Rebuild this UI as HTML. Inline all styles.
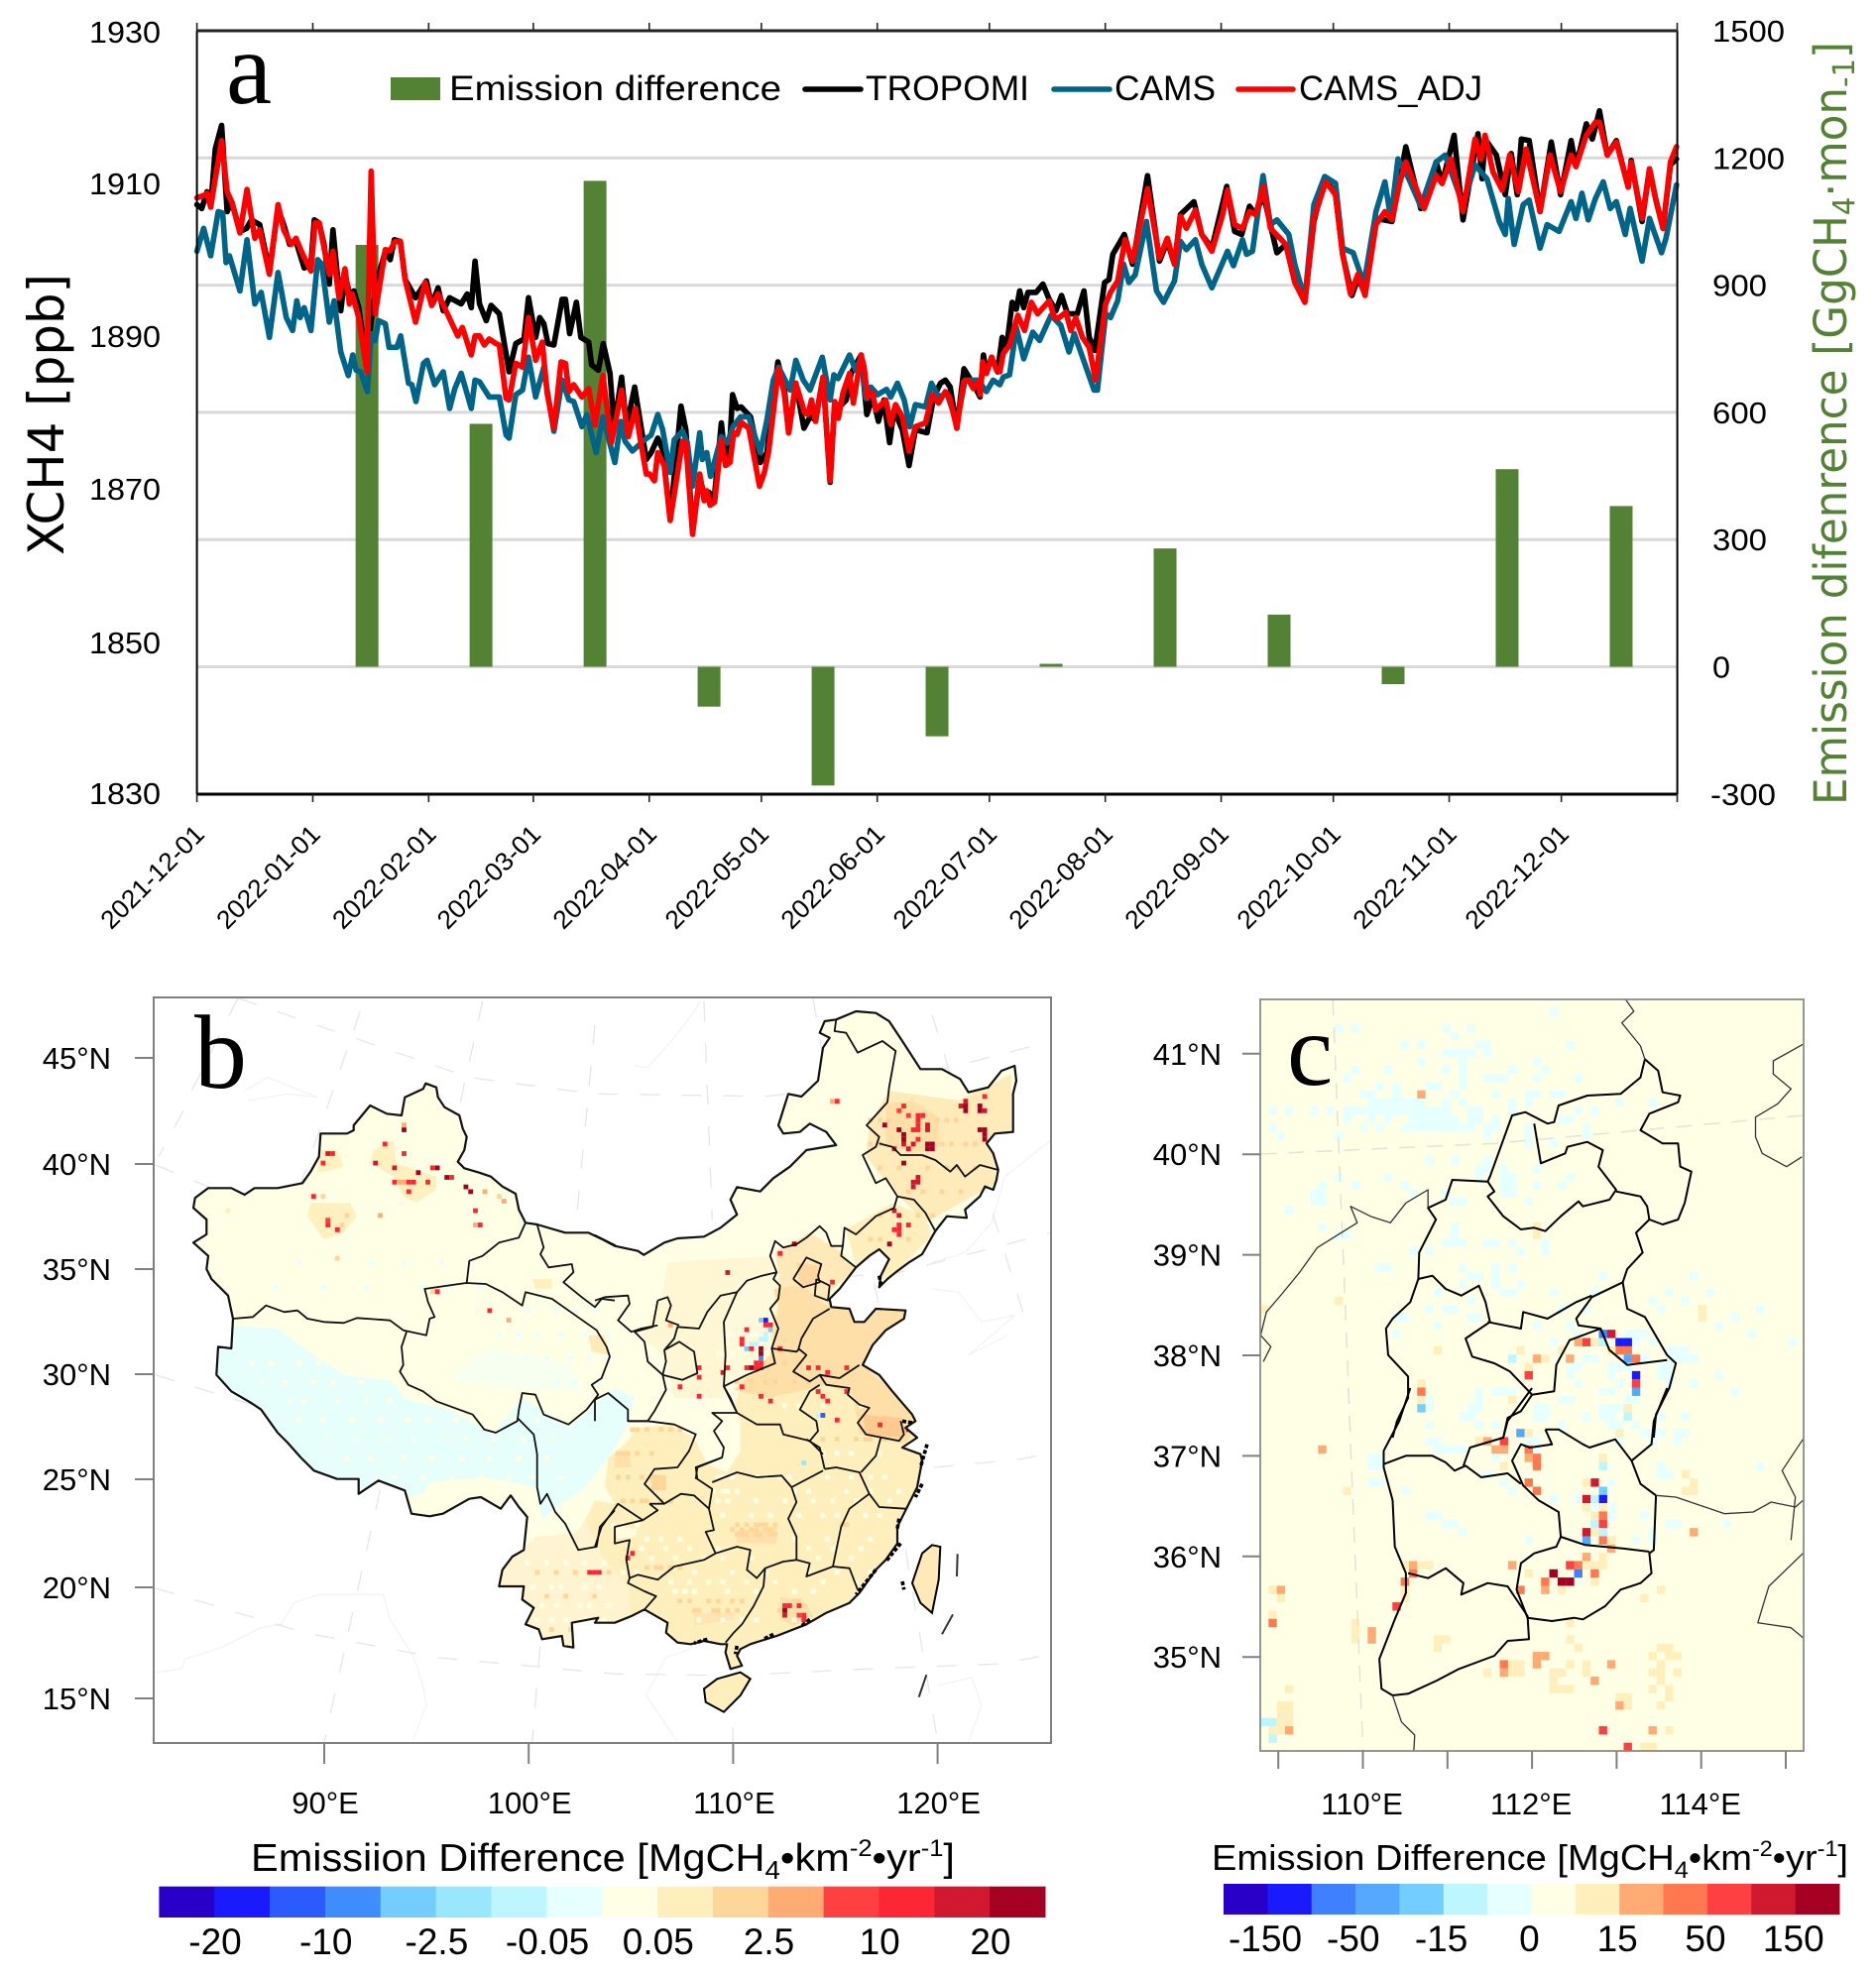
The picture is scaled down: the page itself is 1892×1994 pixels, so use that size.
<!DOCTYPE html>
<html lang="en">
<head>
<meta charset="utf-8">
<title>XCH4 and emission differences</title>
<style>
html,body{margin:0;padding:0;background:#fff;}
svg{display:block;font-family:"Liberation Sans",sans-serif;}
</style>
</head>
<body>
<svg id="fig" xmlns="http://www.w3.org/2000/svg" width="1892" height="1994" viewBox="0 0 1892 1994">
  <rect width="1892" height="1994" fill="#fff"/>
  <g id="panelA"></g>
  <g id="panelB"></g>
  <g id="panelC"></g>

  <text x="228" y="104" font-family="Liberation Serif" font-size="104">a</text>
  <rect x="394" y="78" width="50" height="23" fill="#548235"/>
  <text x="453" y="101" font-size="35" textLength="335" lengthAdjust="spacingAndGlyphs">Emission difference</text>
  <line x1="812" x2="868" y1="90" y2="90" stroke="#000" stroke-width="5.6" stroke-linecap="round"/>
  <text x="873" y="101" font-size="35" textLength="165" lengthAdjust="spacingAndGlyphs">TROPOMI</text>
  <line x1="1063" x2="1119" y1="90" y2="90" stroke="#006489" stroke-width="5.6" stroke-linecap="round"/>
  <text x="1124" y="101" font-size="35" textLength="102" lengthAdjust="spacingAndGlyphs">CAMS</text>
  <line x1="1249" x2="1304" y1="90" y2="90" stroke="#ff0000" stroke-width="5.6" stroke-linecap="round"/>
  <text x="1310" y="101" font-size="35" textLength="185" lengthAdjust="spacingAndGlyphs">CAMS_ADJ</text>

  <text transform="translate(64,560) rotate(-90)" font-family="DejaVu Sans" font-size="50" textLength="284" lengthAdjust="spacingAndGlyphs">XCH4 [ppb]</text>
  <text transform="translate(1862,812) rotate(-90)" font-family="DejaVu Sans" font-size="45" fill="#548235" textLength="770" lengthAdjust="spacingAndGlyphs">Emission difenrence [GgCH<tspan font-size="30" dy="8">4</tspan><tspan dy="-8">·mon</tspan><tspan font-size="30" dy="8">-1</tspan><tspan dy="-8">]</tspan></text>

  <text x="196" y="1097" font-family="Liberation Serif" font-size="106">b</text>
  <text x="1298" y="1094" font-family="Liberation Serif" font-size="104">c</text>

  <text x="253" y="1887" font-size="39" textLength="710" lengthAdjust="spacingAndGlyphs">Emissiion Difference [MgCH<tspan font-size="26" dy="8">4</tspan><tspan dy="-8">•km</tspan><tspan font-size="24" dy="-15">-2</tspan><tspan dy="15">•yr</tspan><tspan font-size="24" dy="-15">-1</tspan><tspan dy="15">]</tspan></text>
  <text x="1222" y="1886" font-size="36" textLength="642" lengthAdjust="spacingAndGlyphs">Emission Difference [MgCH<tspan font-size="24" dy="8">4</tspan><tspan dy="-8">•km</tspan><tspan font-size="22" dy="-14">-2</tspan><tspan dy="14">•yr</tspan><tspan font-size="22" dy="-14">-1</tspan><tspan dy="14">]</tspan></text>
</svg>

<script>
/* ---------- Panel a data ---------- */
const monthLabels = ["2021-12-01","2022-01-01","2022-02-01","2022-03-01","2022-04-01","2022-05-01","2022-06-01","2022-07-01","2022-08-01","2022-09-01","2022-10-01","2022-11-01","2022-12-01"];
const monthDays = [0,31,62,90,121,151,182,212,243,274,304,335,365,396];
const leftTicks = [1930,1910,1890,1870,1850,1830];
const rightTicks = [1500,1200,900,600,300,0,-300];
const gridValues = [1200,900,600,300,0];
const barDays = [45.5,76,106.5,137,167.5,198,228.5,259,289.5,320,350.5,381];
const barValues = [995,573,1146,-94,-280,-164,7,279,123,-41,466,379];

const tropomiDays = [0,1.3,2.7,3.7,4.9,6.6,8.1,9.3,11.5,13.3,14.6,16.8,19.4,21.7,23.2,24.8,26.5,28.7,30.5,31.4,32.7,34,35.4,36.4,38.5,39.6,40.8,42,43.3,45.5,46.6,48.2,50.4,51.7,52.8,54.4,55.7,58.5,61.4,62.8,64.5,65.9,67.6,70.7,72.3,73.4,74.4,75.6,77.4,78.7,80.9,83.5,85.3,87.5,88.7,90.6,91.7,92.8,93.9,95.5,97.7,98.6,99.7,101.5,102.7,104.8,105.6,107.4,108.7,110.5,111.6,113.6,114.9,117.1,120.2,121.5,123.3,124.6,126.6,129.5,130.8,132.6,134.5,135.7,137,138.3,140.3,141.4,142.3,143.3,144.5,145.6,148.1,150.7,152.5,155.4,157.1,158.3,160.2,162.4,164,165.5,167.5,169.4,170.6,171.9,173.7,175,177.7,179.2,180.8,182.3,183.8,185.3,186.5,188.7,190.5,192.2,195.3,197.1,198.9,200.2,201.5,203.3,205.2,206.8,208.2,209.5,210.4,211.2,212.6,214.2,215.4,216.6,218.1,219.2,220.1,221.2,222.3,224.5,226.3,228,229.8,231.3,232.9,235.5,237.3,238.7,240.2,242.8,244,245,248.1,250.3,254.3,257.5,259.6,261.5,263.1,266.7,268.8,271.5,275.5,277.6,279.5,281.6,283.2,285.3,288.9,291.3,293.7,296.4,298.8,301.7,304.6,306.5,309,310.6,312.5,315.4,319.7,323.4,327.4,331.5,333.1,336.3,338.7,342.7,343.8,344.6,347.6,350,351.6,353.2,354.3,356.4,359.3,362.3,364.8,367.6,368.9,371.7,373.3,375.2,377.3,379.7,382.9,383.7,386.6,388.6,390.2,392.2,394.2,395.8];
const tropomiPpb = [1907.2,1906.7,1908.9,1906.9,1914.5,1917.6,1906.3,1907.6,1903.7,1904.1,1905.2,1904.6,1898.5,1906.7,1904.6,1902,1902.4,1898.9,1899.4,1905.2,1904.8,1902,1896.8,1903.9,1893.3,1898.1,1895.5,1895.9,1893.7,1885.9,1892,1897.2,1901.1,1900,1902.6,1902.4,1897.4,1895,1897.2,1894,1896.3,1893.3,1895,1894.2,1895.5,1893.7,1899.8,1894.2,1892,1894,1892.9,1885.3,1889,1889.6,1895,1889.8,1892.4,1891.6,1889,1888.8,1894.8,1894.8,1890.3,1894.4,1889.8,1889.2,1886.2,1885.5,1889,1885.1,1878.1,1884.6,1878.1,1883.3,1873.8,1874.7,1876.6,1875.1,1866,1880.8,1877.7,1864.3,1871.6,1869,1869.5,1868.2,1878.6,1873.4,1873.8,1882.3,1880.5,1880.7,1879.4,1873.4,1874.7,1886.6,1883.3,1877.3,1883.8,1877.9,1879.4,1879,1884.6,1870.8,1881.2,1880.7,1881.6,1885.1,1887.5,1879.7,1882,1878.8,1881.6,1876,1880.3,1877.7,1873,1877.7,1877.3,1882,1883.8,1884.2,1883.3,1877.9,1885.7,1884.4,1883.3,1882,1887.5,1885.1,1887.2,1885.3,1889.8,1888.5,1894.4,1893.5,1895.9,1893.7,1895.7,1895.7,1896.8,1894.8,1893.3,1895.3,1892.9,1892.9,1895.9,1889.8,1888.1,1897,1897.4,1900.7,1903.3,1899.4,1911,1899.8,1902.4,1899.4,1905.9,1907.6,1903.3,1901.5,1909.6,1903.7,1903.3,1907,1905.9,1908.5,1900.9,1902,1897.2,1894.5,1905,1910.7,1908.5,1900.7,1895.3,1897.6,1895.5,1905.4,1905,1914.8,1906.7,1912.8,1910,1916.3,1905.2,1916.5,1910.6,1915.8,1913.7,1908.5,1913.9,1908.5,1915.8,1915.6,1906.3,1915.4,1908.5,1915.6,1912.2,1917.8,1915.8,1919.5,1913.7,1915.6,1909.5,1913,1905,1911.9,1908,1904.1,1912.4,1913.2];

const camsDays = [0,1.8,3.7,5.7,6.9,7.8,8.7,11.5,13.4,15.5,17.2,19.4,21.7,23.9,25.6,26.7,27.6,28.7,30.5,32.3,33.4,35.4,36.7,38.5,40.5,41.7,42.6,43.8,45.6,46.6,47.7,48.6,50.4,51.4,53.5,54.5,56.6,57.5,58.6,60.6,61.6,63.6,65.9,67.6,69,70.7,73.4,74.4,75.6,78.2,80.9,82.7,83.5,85.3,87.1,88.7,90.6,92.8,93.7,95.5,97.7,99.5,100.8,103,104.3,106.8,108.6,111.8,113.4,114.5,116.5,119.3,121.5,123.3,124.6,126.6,127.7,129.9,131.2,132.6,134.5,135.2,136.4,137.4,140.3,141.9,143.4,145.4,147.6,150.7,152.5,154.2,155.6,158.7,160.2,162.2,164,167.3,169.4,170.4,171.5,174.6,176.2,177.7,179,180.3,182.1,184.5,185.6,187.4,189.2,190.7,192.2,194.9,196.5,198.4,200.6,203.3,205.5,209,211.2,213,214.8,215.7,217.4,219.2,221.2,223.6,225.4,228.5,231.1,233.3,234.7,240,240.9,243.1,244.4,246.3,247.9,249.3,251,254,256.7,258.6,261.5,263.1,264.7,267.1,268.8,271.5,275.7,277.3,279.7,280.8,282.4,285.2,287.2,288.9,292.1,293.7,296.4,298.8,301.7,304.6,306.5,309.3,312.2,315.4,317.8,319.4,321.3,324.2,327.4,331.5,333.9,338.7,341.9,345.1,348.4,350,350.8,352.4,354.8,356.4,359.3,361.2,364.4,367.6,368.9,370.5,372.2,374.1,376.2,378.1,379.7,382.1,383.4,386.6,388.6,389.8,391.8,393,395.8];
const camsPpb = [1901.1,1904.1,1900.5,1906.3,1906.1,1899.6,1900.5,1895.9,1902.6,1894.2,1895.7,1889.8,1898.3,1892.4,1890.7,1894.6,1892.4,1893.7,1890.7,1900,1899.4,1891.8,1894.6,1887.9,1884.8,1887.5,1885.5,1885.3,1882.7,1890.3,1889.4,1892,1891.6,1888.5,1888.5,1890,1883.8,1883.6,1881.4,1886.4,1886.8,1883.6,1885.3,1880.5,1883.1,1885.1,1880.5,1884.2,1884,1882,1882,1877,1876.6,1882.3,1882.9,1887.2,1882,1885.9,1882.9,1877.5,1884.2,1881.6,1881.4,1878.1,1879.7,1874.7,1879.4,1873.4,1878.8,1876.2,1874.9,1876.2,1877,1879.7,1877.7,1872.1,1876.4,1877.5,1876,1870.3,1877.3,1873.8,1874.7,1871.6,1876.8,1876,1878.1,1879.4,1879.4,1874.7,1879,1884.2,1885.9,1882.9,1886.8,1884.2,1882.9,1887.2,1881.6,1884.9,1884.4,1887.5,1885.5,1887.2,1881.8,1883.3,1882.3,1883,1882,1883.8,1881.6,1878.1,1881,1880.7,1883.8,1882,1882.5,1878.6,1884.2,1884.2,1882.7,1884.2,1883.6,1884.6,1884.9,1891.1,1887,1890.5,1889.4,1892.7,1891.4,1887.9,1890.3,1882.9,1882.9,1892.9,1892.4,1894.6,1899.4,1897,1898,1905,1895.9,1894.4,1897.2,1902.4,1901.3,1902.6,1899.4,1896.3,1901.1,1899.2,1902.6,1900.7,1901.1,1911,1904.6,1905.2,1903.3,1899.4,1894.8,1907.2,1910.9,1910,1901.5,1900.9,1896.8,1906.3,1910.2,1905.4,1913.2,1910.6,1907,1912.8,1913.7,1907.2,1912.4,1910.6,1905,1903.3,1908,1902,1907.2,1907.8,1901.5,1904.6,1903.7,1907.6,1905.4,1908.7,1905.2,1908,1910.2,1906.7,1907.6,1903.3,1906.7,1899.8,1905.4,1903.7,1900.9,1902.8,1909.8];

const adjDays = [0,1.8,2.7,3.7,4.9,6.6,8.1,9.3,11.5,13.4,15.5,16.8,19.4,21.7,23.2,25.2,26.5,28.3,30.5,31.6,32.7,35.4,36.4,38,39.6,40.8,41.5,43.3,45.5,46.6,47.7,50.4,51.7,53,54.4,55.7,58.5,61,62.8,64.5,67.2,69.8,71,73.4,74.4,75.6,76.9,78.2,80,80.9,82.7,83.5,85.3,87.1,88.7,90.6,92.4,93.7,95.5,97.4,98.6,99.5,100.8,103,104.8,106.5,108.6,110.9,113.6,115.4,117.3,118.5,120.2,121.1,122.4,123.3,125,126.6,129.9,130.8,132.6,134.5,135.7,136.4,137.3,138.5,140.3,141.4,142.6,143.6,144.5,145.6,147.6,150.5,151.8,152.9,155.6,157.1,158.3,160.2,162.6,163.5,164.4,165.5,167.5,169.4,170.6,171.6,172.8,174.6,175.6,177.7,178.5,179.4,180.8,181.6,184.3,185.6,186.9,188.7,190.5,192.2,194.9,196.7,198.4,200.2,201.3,203.3,205.1,206.4,207.7,209,209.5,210.2,211.2,212.6,213.9,214.8,215.7,217.4,219.6,221.4,223.2,224.9,228,229.4,230.7,232.5,233.8,235.1,236.9,238.7,240.4,241.3,243.1,244.4,246.3,248.3,250.3,254.3,257.5,259.6,261.5,263.1,264.7,267.1,268.8,271.5,274.4,275.7,277.6,279.7,281.6,283.2,285.3,287.2,291.3,293.7,296.4,298.8,302,304.6,306.5,308.6,310.6,312.5,315.4,317.8,319.7,321.8,323.4,325.8,328.3,331.5,333.1,335.5,338.7,341.9,343.5,344.6,346.7,349.2,351.2,353.5,355.6,359.3,362,364.8,367.6,368.9,371.7,374.1,375.2,377.3,379.7,382.9,383.7,386.6,388.6,390.2,392.2,394.2,395.8];
const adjPpb = [1908.1,1908.4,1908.7,1906.9,1910.6,1915.6,1908.9,1907.6,1903.5,1909.2,1902.8,1903.9,1898.1,1907.2,1903.9,1902,1902.8,1900.7,1898.5,1904.8,1904.8,1898.1,1901.1,1895,1898.8,1894.2,1895.5,1892.4,1885.3,1911.6,1892.9,1901.3,1901.2,1902.4,1902.4,1897.4,1891.8,1897,1894,1895.5,1892.7,1890,1891.1,1887.5,1890,1890,1888.8,1889.6,1889,1888.8,1881.8,1881.6,1886.4,1885.9,1892.4,1886.8,1889.2,1882.5,1877.9,1886.6,1886.4,1882.7,1883.6,1882,1883.1,1878.3,1884.8,1876,1882.9,1876.8,1880.5,1876.8,1871.9,1871.9,1871,1874.7,1873,1865.8,1876.2,1876,1864,1871.9,1868.4,1869.7,1867.8,1868.2,1876.4,1873,1873.4,1877.3,1877.1,1878.7,1877.9,1870.3,1872.1,1874.7,1885.7,1882.5,1877.3,1883.8,1879.9,1879.7,1881.6,1878.8,1884.6,1871,1881.4,1879.2,1882.5,1885.1,1881.2,1887.5,1885.9,1882,1882.5,1880.3,1881.6,1878.4,1881,1879.4,1874.9,1878.1,1878.6,1882.3,1881.2,1882.7,1882,1877.9,1884,1884.2,1883.1,1884,1882.3,1886.6,1885.1,1887.2,1885.5,1885.3,1887.7,1888.8,1892.7,1890.7,1894.4,1892.9,1894.6,1892.4,1892.4,1893.1,1890.7,1892.4,1889.8,1888.5,1884.2,1887.7,1894.2,1895.7,1897.2,1902.6,1899.8,1909.3,1900.2,1902.8,1899.4,1905.7,1904.1,1906.5,1903.3,1901.1,1905.9,1909.1,1904.6,1904.1,1906.3,1905.9,1909.6,1904.1,1902,1897,1894.4,1905.4,1910.2,1908.5,1900.7,1895.5,1898.1,1895.3,1904.6,1906.3,1905.2,1910.2,1912.8,1909.8,1906.7,1911,1910,1913.2,1906.3,1915.8,1913.2,1916.3,1911.5,1909.1,1913.7,1908.9,1914.5,1906.3,1913.7,1908.9,1913.7,1912.2,1916.3,1918,1918,1913.7,1915.4,1909.5,1912.8,1905.4,1911.9,1908,1904.1,1912.8,1914.8];

/* ---------- Colour-bar data ---------- */
const bBarColors = ["#2800c8","#1a1aff","#2a5bff","#3f8cff","#73ceff","#99e6ff","#bdf6ff","#e6ffff","#ffffe6","#ffefbd","#ffd699","#ffab73","#ff4040","#ff2633","#d0182f","#a50021"];
const cBarColors = ["#2800c8","#1a1aff","#3f80ff","#56a8ff","#73ceff","#bdf6ff","#e6ffff","#ffffe6","#ffefbd","#ffab73","#ff7850","#ff4040","#d0182f","#a50021"];
const bBarLabels = ["-20","-10","-2.5","-0.05","0.05","2.5","10","20"];
const cBarLabels = ["-150","-50","-15","0","15","50","150"];

/* ---------- Map tick labels ---------- */
const bLatLabels = ["45°N","40°N","35°N","30°N","25°N","20°N","15°N"];
const bLatValues = [45,40,35,30,25,20,15];
const bLonLabels = ["90°E","100°E","110°E","120°E"];
const bLonValues = [90,100,110,120];
const cLatLabels = ["41°N","40°N","39°N","38°N","37°N","36°N","35°N"];
const cLatValues = [41,40,39,38,37,36,35];
const cLonLabels = ["110°E","112°E","114°E"];
const cLonValues = [110,112,114];
const cLonTickValues = [109,110,111,112,113,114,115];

/* ---------- Map heat cells: [column, row, colour level] ---------- */
const bCells = [[52,27,15],[52,26,11],[48,30,13],[52,32,13],[36,32,14],[37,32,13],[35,34,13],[46,34,14],[50,35,14],[55,36,15],[58,35,13],[59,35,15],[61,37,15],[62,37,13],[50,38,13],[51,38,11],[52,38,11],[53,38,13],[54,38,13],[57,38,13],[65,39,15],[66,40,15],[53,40,13],[33,41,13],[35,41,10],[69,40,11],[72,41,10],[73,42,11],[67,44,13],[47,45,11],[40,45,10],[36,46,12],[36,47,13],[38,48,13],[39,47,10],[67,47,11],[68,47,13],[58,61,10],[59,61,13],[70,65,13],[74,67,11],[38,54,10],[15,44,9],[143,21,13],[142,21,11],[174,20,13],[169,22,14],[170,22,15],[170,23,15],[170,21,14],[173,22,15],[173,23,15],[174,23,14],[173,27,15],[174,27,15],[174,28,15],[174,29,15],[157,22,13],[156,23,12],[158,24,12],[160,24,13],[161,24,13],[160,25,13],[160,26,13],[159,27,13],[160,27,13],[162,26,14],[162,27,14],[153,26,15],[156,27,15],[157,28,15],[157,29,15],[157,30,14],[158,31,14],[159,30,14],[160,29,13],[162,30,15],[163,30,15],[162,31,15],[163,31,15],[155,31,14],[157,34,15],[159,38,14],[160,38,14],[159,39,14],[160,37,14],[156,45,14],[155,44,14],[156,47,13],[155,48,13],[156,48,13],[156,49,13],[158,47,13],[154,51,15],[134,51,15],[131,53,13],[120,57,14],[142,59,13],[128,67,1],[127,67,4],[129,68,13],[128,68,13],[124,69,13],[129,69,4],[123,71,13],[123,72,13],[124,73,4],[125,73,13],[127,73,15],[127,74,15],[127,75,3],[126,76,13],[127,76,13],[126,77,13],[127,77,13],[125,77,15],[124,77,13],[120,77,13],[119,78,14],[131,73,13],[123,81,13],[108,68,11],[114,77,13],[114,79,13],[110,81,13],[114,83,13],[127,83,13],[129,84,13],[137,77,13],[139,77,13],[141,78,13],[145,77,13],[139,82,13],[140,83,13],[141,84,13],[145,82,13],[143,88,13],[140,87,2],[139,87,6],[152,89,13],[158,90,14],[157,90,11],[136,97,5],[128,70,6],[127,71,6],[126,72,6],[125,72,6],[128,71,6],[93,120,13],[100,116,13],[99,117,13],[132,127,13],[133,127,13],[132,128,15],[132,129,14],[135,127,13],[135,129,12],[136,129,13],[136,130,13],[160,119,13],[91,120,13],[92,120,13]];

/* mottled background cells in panel b: [row, colour level, columns...] */
const bMottleRows = [[25,10,150,152,154,164,166,168],[30,10,150,152,165,167,170,172],[35,10,152,156,162,166,168,172],[40,10,158,161,165,169],[45,10,152,160,163],[50,10,150,152,158],[55,7,30,45,52,60,66],[60,7,25,35,44,56,62,68],[65,7,78,84,88,92],[70,7,72,76,80,85,90,95],[75,7,78,82,87,91,95],[80,7,84,88,93],[76,8,20,24,30,34,40,46,52,58],[80,8,22,27,33,37,43,50,56,62,70],[84,8,28,31,38,44,49,55,60,66,72],[88,8,30,35,41,47,53,57,63,69,75,80],[92,8,36,42,48,54,61,65,71,77,83],[96,8,40,45,52,58,64,70,76,82],[100,8,46,50,56,62,68,74,79,85],[70,8,120,121,125,126],[74,8,118,119,121],[76,10,128,132,135,138],[80,10,122,125,128,130,134,137,140],[85,8,132,135,140,148],[90,10,100,101,103,106,108,110],[92,10,140,143,147,149,150,153],[95,8,140,143,146,152],[95,10,97,98,99,101,104],[100,8,118,119,121,126,128,131,133,141,146,150,153],[100,10,97,99,102,104],[103,8,117,119,120,122,134,137,145,150,156],[105,8,118,120,126,132,138,142,147,154],[105,10,98,100,102,103,106,108],[108,8,119,125,129,135,140,143,149,152],[110,8,96,98,101],[110,10,122,124,126,127,128,130,144,145],[111,10,121,123,125,126,128,129],[112,10,122,123,124,126,127,129,130],[113,8,103,106,110,134,141,150],[115,8,102,107,112,118,137,142,148],[117,8,104,109,115,119,125,139,146],[118,8,78,82,86,90,94],[119,10,103,105,106,108,110],[120,8,98,101,113,121,128,137,143,150],[120,10,80,84,88,95],[122,8,108,112,116,119,124,130,140,147],[123,8,79,83,85,90,93],[124,8,109,111,113,120,126,134,138],[125,10,82,86,92],[126,10,110,112,116,118,121,123,134,135],[127,8,77,81,84,89,91,95],[128,10,113,114,117,118,120,122,131],[130,8,80,83,86,90,94,114,119,123,126,134,141],[132,10,83,87,93]];

const cCells = [[19,11,9],[9,36,8],[0,37,8],[42,40,12],[41,40,2],[41,41,5],[39,41,11],[38,41,9],[40,41,8],[43,41,1],[44,41,1],[43,42,10],[44,42,10],[42,42,8],[44,43,3],[45,43,10],[37,43,9],[36,42,8],[33,43,9],[34,43,8],[30,43,5],[31,42,8],[32,44,8],[32,45,11],[45,45,1],[45,46,11],[45,47,3],[19,46,8],[19,47,10],[19,48,8],[19,49,4],[21,42,8],[30,48,8],[44,49,8],[44,50,5],[31,52,3],[32,52,8],[43,52,8],[53,37,8],[53,38,8],[33,27,8],[33,28,8],[7,54,9],[10,59,8],[26,53,8],[27,53,9],[29,53,11],[28,54,9],[29,54,9],[32,54,10],[32,55,9],[33,55,10],[33,56,10],[29,56,8],[32,58,10],[33,59,10],[41,55,8],[41,56,5],[40,58,12],[39,58,8],[41,59,4],[39,60,12],[41,60,1],[40,60,5],[39,61,8],[41,61,8],[40,62,8],[41,62,10],[40,63,5],[41,63,11],[39,64,12],[40,64,8],[41,64,5],[39,65,3],[41,65,10],[42,65,8],[42,66,9],[52,64,9],[39,67,9],[41,67,8],[37,68,11],[38,68,10],[41,68,8],[40,68,8],[39,68,8],[30,68,9],[35,69,13],[38,69,2],[40,69,10],[32,69,8],[36,70,13],[37,70,13],[34,70,10],[34,71,9],[36,71,8],[31,71,10],[40,70,8],[18,68,9],[18,69,10],[17,68,8],[19,68,8],[20,68,8],[17,70,10],[17,71,8],[17,72,8],[16,73,11],[1,71,8],[2,71,9],[2,72,8],[1,74,8],[1,75,10],[11,75,8],[11,76,8],[11,77,8],[13,76,9],[13,77,9],[21,77,8],[22,77,8],[21,78,8],[37,75,8],[37,77,8],[38,78,8],[33,79,9],[34,79,9],[33,80,9],[29,80,10],[29,81,9],[30,80,8],[31,80,8],[30,81,8],[31,81,8],[27,81,8],[37,80,8],[39,80,8],[39,81,8],[42,80,9],[35,81,8],[36,81,8],[35,82,8],[35,83,8],[36,83,8],[37,83,8],[40,82,9],[48,78,8],[49,78,8],[47,79,8],[49,79,8],[50,79,8],[48,80,8],[47,81,8],[48,81,8],[50,81,8],[48,82,8],[47,83,8],[49,83,8],[49,84,8],[48,85,8],[3,83,8],[46,72,8],[48,71,8],[51,57,8],[52,58,8],[51,59,8],[52,59,8],[43,84,8],[44,84,8],[44,85,8],[43,85,9],[41,88,11],[47,88,9],[49,88,8],[44,90,11],[46,90,8],[47,90,8],[2,85,8],[3,85,8],[2,86,8],[3,86,8],[2,87,8],[3,87,8],[1,88,8],[2,88,8],[3,88,9],[0,87,5],[1,87,5],[1,89,5]];

/* rows of faint negative cells in panel c: [row, columns...] */
const cPaleRows = [[1,35],[3,9,11,22,25],[4,23],[5,17,19,26,27,37],[6,22,23,24,25,27],[7,19,24,33],[8,11,15,22,24,30,34],[9,10,24,27,28,29,33,38],[10,14,16,20,21,24],[11,12,13,16,23,28,32,33,35,36],[12,13,14,15,16,17,18,19,22,24,30,32,43,47],[13,1,3,6,8,10,11,12,13,14,15,16,17,18,19,20,21,22,25,26,30,38,40],[14,10,13,15,18,19,20,21,22,23,25,26,28,36,37],[15,1,12,14,17,18,19,20,21,22,23,24,25,27,28,32,39],[16,2,9,27,32,39],[17,32,35],[19,20,23,27],[20,26,27,29,33],[21,9,15,26,29,30,37],[22,7,11,17,29,30,33,36],[23,6,7,18,22,29,30],[24,6,7,23,24,32],[25,3],[27,7,23],[28,9,10,23],[29,22,23,24,27,28,30,34],[30,18,20,31,34],[32,14,15,24,28,30],[33,25,26,28,41,52],[34,24,28,31],[35,21,29,30,35,40,49,54],[36,25,47,51],[37,20,22,23,36,39,48,60],[38,16,17,25,26,57],[39,21,33,37,55],[40,16,38,44,45,46,59],[41,35,45,47,64],[42,49,50,51],[43,30,39,40,45,46,49,50,51,52],[44,37,38,42,43,44,48,49],[45,37,42,48,49,55],[46,38,43,49,52],[47,28,29,30,26,41,42,57],[48,20,26,36,37,44,45],[49,20,25,26,33,34,41,42,43],[50,24,25,33,34,39,41,42,48,51],[51,20,26,28,36,42,43,45],[52,46,47,48,50,51],[53,20,21,32,33,43,47,50],[54,21,22,23,24,32,33],[55,13,14,28],[56,13,14,48,60],[57,48,49,27],[58,13,14,29,42],[59,17,30,41,51],[60,38,35],[61,40,42],[62,20,21,42,46],[63,22,23,49,50,56],[64,24,47],[65,32,41,45,47]];

const $NS = "http://www.w3.org/2000/svg";
function mk(parent, tag, attrs, txt) {
  const e = document.createElementNS($NS, tag);
  for (const k in attrs) e.setAttribute(k, attrs[k]);
  if (txt !== undefined) e.textContent = txt;
  parent.appendChild(e);
  return e;
}

/* ---------- Panel a ---------- */
const A = document.getElementById("panelA");
const xDay = d => 198.6 + d * 3.77;
const yPpb = v => 31 + (1930 - v) * 7.695;
const yEmis = v => 31 + (1500 - v) * 0.42767;

gridValues.forEach(v => {
  const l = mk(A, "line", {x1:198.6, x2:1691.6, y1:yEmis(v), y2:yEmis(v), stroke:"#d9d9d9", "stroke-width":3});
  
  
});
barValues.forEach((v, i) => {
  const y0 = yEmis(0), y1 = yEmis(v);
  const r = mk(A, "rect", {x:xDay(barDays[i]) - 11.5, y:Math.min(y0, y1), width:23, height:Math.abs(y1 - y0), fill:"#548235"});
  
  
});
function drawSeries(days, vals, color, name) {
  const d = days.map((t, i) => (i ? "L" : "M") + xDay(t).toFixed(1) + " " + yPpb(vals[i]).toFixed(1)).join("");
  const p = mk(A, "path", {d:d, fill:"none", stroke:color, "stroke-width":5.6, "stroke-linejoin":"round", "stroke-linecap":"round"});
  
  
}
drawSeries(tropomiDays, tropomiPpb, "#000000", "series-tropomi");
drawSeries(camsDays, camsPpb, "#006489", "series-cams");
drawSeries(adjDays, adjPpb, "#ff0000", "series-cams-adj");

const frameA = mk(A, "g", {});


mk(frameA, "line", {x1:198.6, x2:198.6, y1:31, y2:801, stroke:"#000", "stroke-width":2});
mk(frameA, "line", {x1:1691.6, x2:1691.6, y1:31, y2:801, stroke:"#000", "stroke-width":2});
mk(frameA, "line", {x1:198, x2:1692, y1:31, y2:31, stroke:"#222", "stroke-width":3});
mk(frameA, "line", {x1:198, x2:1692, y1:801, y2:801, stroke:"#000", "stroke-width":3});
monthDays.forEach(d => {
  mk(frameA, "line", {x1:xDay(d), x2:xDay(d), y1:23, y2:31, stroke:"#222", "stroke-width":1.6});
  mk(frameA, "line", {x1:xDay(d), x2:xDay(d), y1:801, y2:809, stroke:"#222", "stroke-width":1.6});
});
monthLabels.forEach((s, i) => {
  const x = xDay(monthDays[i]) + 9;
  const t = mk(A, "text", {transform:"translate(" + x + ",843) rotate(-45)", "text-anchor":"end", "font-size":26, textLength:135, lengthAdjust:"spacingAndGlyphs"}, s);
  
  
});
const leftLabelY = {1930:43, 1910:196, 1890:350, 1870:504, 1850:659, 1830:811};
leftTicks.forEach(v => {
  const t = mk(A, "text", {x:162, y:leftLabelY[v], "text-anchor":"end", "font-size":31, textLength:72, lengthAdjust:"spacingAndGlyphs"}, v);
  
  
});
rightTicks.forEach(v => {
  const s = String(v);
  const w = v === 0 ? 18 : (v < 0 ? 66 : (v >= 1000 ? 73 : 55));
  const t = mk(A, "text", {x:v < 0 ? 1725 : 1727, y:yEmis(v) + 11, "font-size":31, textLength:w, lengthAdjust:"spacingAndGlyphs"}, s);
  
  
});

/* ---------- Map helpers ---------- */
const Z = {
  z4:[140,1000,3,3], z5:[600,1000,3,3], z6:[140,1400,3,3], z7:[600,1400,3,3],
  z8:[1150,1000,2.24,3], z9:[1150,1400,2.24,3]
};
function pts(zone, arr) {
  const z = Z[zone], out = [];
  for (let i = 0; i < arr.length; i += 2) out.push([z[0] + arr[i] / z[2], z[1] + arr[i + 1] / z[3]]);
  return out;
}
const toD = (p, close) => p.map((q, i) => (i ? "L" : "M") + q[0].toFixed(1) + " " + q[1].toFixed(1)).join("") + (close ? "Z" : "");

/* ---------- Panel b ---------- */
const B = document.getElementById("panelB");
const chinaOutline = [].concat(
  pts("z4",[868,278,900,290,905,320,925,350,970,375,980,415,992,440,985,480,965,515,985,535,1030,548,1065,560,1100,590,1140,612,1150,660,1170,700,1205,705,1290,730,1360,730,1440,768]),
  pts("z5",[0,738,60,770,130,785,148,797,210,760,250,747,330,742,380,715,430,675,410,630,430,592,500,605,540,565,590,530,640,480,730,465,700,425,650,400,620,425,570,430,555,405,585,310,625,318,675,270,690,170,710,140,680,125,695,90,730,85,790,60,850,65,890,90,930,150,985,235,1050,235,1105,265,1130,305,1190,290,1230,240,1270,225,1275,270,1265,310,1265,425,1210,430,1185,460,1205,490,1220,540,1215,570,1205,600,1180,590,1165,620,1120,660,1125,685,1065,680,1030,725,990,795,950,820,910,850,885,870,860,895,865,860,890,810,860,780,830,800,790,835,740,900,710,930,715,955,770,960,785,1000,815,1000,850,960,940,965,935,990,880,1025,840,1070,810,1130,860,1160,900,1210,960,1280,970,1300,940,1320,975,1350,930,1380,985,1400]),
  pts("z7",[990,220,975,300,940,370,915,420,915,470,880,520,850,550,800,620,770,650,700,680,640,715,550,750,470,775,440,790,430,810,445,840,410,850,395,800,400,775,380,775,330,765,290,775,250,770,215,740,220,710,150,670,110,690,60,710,0,710]),
  pts("z6",[1390,695,1310,710,1315,785,1285,780,1280,750,1220,760,1210,730,1170,715,1195,665,1160,640,1165,600,1090,600,1100,550,1130,510,1165,490,1175,390,1150,360,1125,325,1095,365,1035,330,1000,335,920,380,880,388,825,380,805,310,725,280,680,310,665,320,665,275,600,275,530,250,490,210,450,165,420,135,370,65,340,45,280,10]),
  pts("z4",[235,1160,240,1075,280,1080,285,990,270,920,220,870,205,840,210,800,165,760,205,735,205,690,165,655,170,625,210,595,280,595,320,615,350,595,420,595,495,580,520,545,545,500,550,430,630,430,650,420,650,405,700,345,750,370,795,375,805,320,860,295])
);
const bDefs = mk(B, "defs", {});
const bClip = mk(bDefs, "clipPath", {id:"chinaClip"});
mk(bClip, "path", {d:toD(chinaOutline, true)});
const bFrameClip = mk(bDefs, "clipPath", {id:"bFrameClip"});
mk(bFrameClip, "rect", {x:155, y:1006, width:905, height:752});

/* faint neighbours and graticule */
const faint = mk(B, "g", {fill:"none", stroke:"#efefef", "stroke-width":1, "clip-path":"url(#bFrameClip)"});


[
  ["z6",[50,860,130,850,140,820,250,785,370,725,430,715,470,650,545,625,740,625,760,700,830,810,860,900,870,960,830,1065]],
  ["z7",[290,790,215,815,155,930,250,1070]],
  ["z7",[1040,900,1140,875,1170,960,1130,1070]],
  ["z5",[120,225,160,230,240,140,300,60,320,30]],
  ["z5",[1020,820,1120,790,1200,700,1240,560,1380,450]],
  ["z5",[1020,900,1100,910,1170,1000,1270,980,1130,1100,1250,1040]],
  ["z4",[320,300,390,260,540,320,450,310,330,330]]
].forEach(s => mk(faint, "path", {d:toD(pts(s[0], s[1]))}));

const grat = mk(B, "g", {fill:"none", stroke:"#e6e6e6", "stroke-width":1.3, "stroke-dasharray":"20 22", "clip-path":"url(#bFrameClip)"});


[
  ["z4",[300,20,1000,260,1380,310,1900,317,2300,270,2900,115]],
  ["z4",[50,525,450,690,860,810,1200,880,1500,885,1800,890,2300,850,2760,730]],
  ["z4",[50,1160,600,1330,1130,1440,1440,1465,1700,1460,2200,1460,2670,1415,3120,1315]],
  ["z6",[50,605,500,740,900,815,1440,865,1800,870,2200,850,2600,835,3160,735]],
  ["z4",[300,20,160,300]],
  ["z4",[670,60,450,700,395,870]],
  ["z4",[135,360,60,500]],
  ["z4",[1040,30,860,850,800,1200,660,1820,560,2275]],
  ["z4",[1380,100,1290,1050,1190,2275]],
  ["z5",[330,30,355,690]],
  ["z5",[660,20,700,260,860,950]],
  ["z7",[415,900,418,1075]],
  ["z5",[1020,70,1310,1020]],
  ["z7",[940,490,1037,1070]]
].forEach(s => mk(grat, "path", {d:toD(pts(s[0], s[1]))}));

const land = mk(B, "path", {d:toD(chinaOutline, true), fill:"#ffffe6"});


const fillG = mk(B, "g", {"clip-path":"url(#chinaClip)"});


const bRegions = [
  ["z4","#e6fffb",[200,1000,290,1010,420,1020,530,1100,620,1160,770,1180,800,1230,950,1270,1070,1340,1160,1230,1300,1320,1440,1200,1500,1230,1470,1330,1420,1410,1350,1500,1240,1580,1220,1600,1200,1500,1050,1470,880,1485,860,1520,700,1560,300,1340,200,1200]],
  ["z4","#f6fff0",[1050,1080,1300,1130,1340,1210,1100,1200,950,1170]],
  ["z7","#ffefbd",[-260,590,-160,460,-60,450,-30,400,0,340,60,350,30,300,40,210,90,170,130,120,230,110,300,150,340,230,400,255,440,190,440,100,420,60,440,0,430,-100,400,-230,560,-330,1100,-100,1100,1100,-260,1100]],
  ["z7","#fff4cf",[-300,560,-180,450,-60,440,-30,400,30,520,100,600,110,700,60,820,-300,820]],
  ["z7","#fffce0",[60,420,130,425,120,450,70,455]],
  ["z5","#fff6d4",[220,820,530,800,540,860,430,920,395,1100,390,1230,240,1230,215,1110,140,1040,200,930]],
  ["z5","#fff9dc",[440,880,550,860,560,930,530,1020,540,1120,470,1160,395,1190,395,1000]],
  ["z5","#ffe9b8",[545,790,650,730,750,790,790,840,720,900,700,940,560,880]],
  ["z5","#ffdfa8",[420,1205,530,1100,555,960,540,900,600,890,640,900,700,950,940,960,950,1000,850,1090,810,1130,900,1210,980,1300,940,1370,800,1340,780,1220,700,1190,620,1210,520,1230]],
  ["z5","#ffc990",[810,1280,930,1290,930,1350,820,1340]],
  ["z5","#ffeab9",[830,400,890,300,1100,330,1260,250,1260,430,1205,500,1215,580,1000,700,900,600,820,500]],
  ["z5","#ffdfa8",[880,340,960,330,1040,380,1040,470,960,490,880,460]],
  ["z5","#ffefbd",[760,720,900,640,1000,680,1020,740,900,860,870,870,860,790,790,830]],
  ["z5","#ffd6a0",[610,820,680,830,680,880,620,890]],
  ["z7","#ffe0ac",[60,200,100,190,110,240,60,240]],
  ["z7","#ffd699",[170,260,215,265,215,310,170,310]],
  ["z7","#ffe0ac",[430,430,550,420,550,470,430,470]],
  ["z7","#ffe0ac",[560,630,640,650,660,690,600,720,560,700]],
  ["z7","#ffe4b4",[300,680,420,680,420,700,300,720]],
  ["z4","#fff0c0",[710,480,770,450,780,520,900,560,900,600,840,640,800,620,770,560,700,520]],
  ["z4","#fff0c0",[520,640,640,640,660,680,620,730,560,750,510,680]],
  ["z4","#fff0c0",[550,480,600,480,620,530,540,550]],
  ["z4","#fff0c0",[1190,870,1250,870,1250,900,1200,900]],
  ["z4","#ffeab9",[1360,1040,1410,1040,1420,1100,1370,1090]]
];
bRegions.forEach(r => mk(fillG, "path", {d:toD(pts(r[0], r[2]), true), fill:r[1]}));

const bCol = c => 155.5 + c * 4.8;
const bRow = r => 1007.5 + r * 4.8;
bMottleRows.forEach(row => {
  row.slice(2).forEach(col => {
    const cell = mk(fillG, "rect", {x:bCol(col), y:bRow(row[0]), width:4.8, height:4.8, fill:bBarColors[row[1]]});
    
    
  });
});
bCells.forEach(c => {
  const cell = mk(fillG, "rect", {x:bCol(c[0]), y:bRow(c[1]), width:4.8, height:4.8, fill:bBarColors[c[2]]});
  
  
});

const isle = mk(B, "g", {stroke:"#000", "stroke-width":2});


mk(isle, "path", {d:toD(pts("z7",[370,880,440,860,470,880,440,930,390,980,335,950,330,910]), true), fill:"#ffefbd"});
mk(isle, "path", {d:toD(pts("z7",[1020,475,1045,480,1040,580,1020,680,985,650,960,590,990,500]), true), fill:"#ffe9b8"});

const bProv = [
  ["z4",[285,990,345,985,385,950,440,970,480,965,510,990,560,1000,620,1003,660,988,760,995,800,1025,870,1040,880,990,895,985,875,940,865,900,990,882,1050,885,1100,910,1160,950,1170,910,1250,930,1300,965,1385,1025,1415,1075,1425,1105,1400,1170,1370,1190,1390,1220,1355,1265]],
  ["z4",[1170,700,1150,745,1090,760,1040,800,1000,815,992,882]],
  ["z4",[1205,705,1225,775,1215,795,1240,835,1310,825,1315,850,1285,880,1340,925,1380,955,1400,930,1440,935]],
  ["z5",[0,935,30,925,100,920,105,945,70,995,110,1030,140,1020,190,1010]],
  ["z4",[810,1030,795,1075,800,1130,790,1150,815,1190,860,1210,900,1240,1010,1280,1045,1325,1080,1335,1145,1300,1150,1265,1160,1215,1200,1220,1225,1280,1300,1310,1355,1265]],
  ["z4",[1145,1290,1195,1340,1205,1400,1205,1500,1215,1550,1235,1520,1260,1575,1290,1610,1330,1690,1385,1680,1395,1620,1440,1570]],
  ["z5",[730,85,725,120,760,125,795,185,870,150,910,180,890,290,885,335,822,405,860,440,850,470,810,495,850,580,880,565,915,620]],
  ["z5",[860,460,900,470,925,495,990,495,1030,510,1075,545,1095,525,1120,560,1165,525,1220,540]],
  ["z5",[915,620,965,630,1000,670,1030,725]],
  ["z5",[915,620,905,655,850,680,790,735,755,715,750,770,745,800,790,835]],
  ["z5",[750,770,715,770,700,730,680,710,640,745,610,765,570,775,545,755,530,800,550,850,505,860,460,875,430,910]],
  ["z5",[550,850,540,870,560,890,555,930,530,960,555,1020,535,1080,545,1125,460,1160,390,1195,395,1100,390,1000,430,910]],
  ["z5",[710,960,660,990,625,1050,615,1085,610,1090,535,1080]],
  ["z5",[600,870,640,805,685,825,675,860,680,880,630,895,600,870]],
  ["z5",[670,870,710,890,705,935,665,920,670,870]],
  ["z5",[615,1080,640,1100,600,1150,650,1180,680,1160,740,1170,800,1130]],
  ["z5",[680,1160,700,1190,770,1200,765,1220,800,1250,830,1260,795,1305,820,1340,920,1360,935,1340,925,1300]],
  ["z5",[390,1195,430,1275,490,1310,560,1310,570,1340,650,1360,690,1400]],
  ["z5",[680,1190,650,1210,620,1265,670,1300,675,1330,650,1360]],
  ["z5",[430,910,380,920,340,970,315,1020,250,1015,240,1050,210,1085,215,1120,205,1160,265,1175,310,1155,300,1090,255,1060,210,1085]],
  ["z5",[190,935,220,925,230,950,215,995,255,1010]],
  ["z5",[190,935,175,1015,120,1030,150,1060,160,1120,205,1160]],
  ["z5",[205,1160,215,1205,180,1270,160,1300,100,1300,100,1265,40,1215,0,1235,0,1300]],
  ["z5",[390,1195,410,1230,430,1275,355,1275,385,1300,360,1330,390,1380,385,1410,310,1440,305,1475]],
  ["z7",[100,100,160,100,240,110,305,140,285,190,250,240,180,245,150,290,210,350,260,320,300,325,345,365,355,305,310,275,305,240,385,210]],
  ["z7",[355,285,430,255,490,270,565,265,595,300,690,250]],
  ["z7",[640,155,680,180,695,245]],
  ["z7",[595,300,610,345,585,395,610,450,610,520]],
  ["z7",[695,245,730,240,800,255,830,320,770,365,745,420,720,540,770,545,795,610]],
  ["z7",[830,320,860,360,940,365]],
  ["z7",[805,255,850,205,865,150]],
  ["z7",[720,540,640,570,650,530,610,520,570,525,515,545,490,575,460,550,470,490,430,480,365,500]],
  ["z7",[515,545,510,600,480,660,445,715,420,740,395,770]],
  ["z7",[365,500,330,520,240,540,190,580,130,565,105,575,100,590,150,615,185,630,150,670]],
  ["z7",[145,400,60,420,60,470,105,460,95,520,105,575]],
  ["z7",[165,350,190,370,145,400,70,350,20,420,0,480]],
  ["z7",[165,350,210,350]],
  ["z7",[345,365,360,430,335,435,365,500]]
];
const provB = mk(B, "g", {fill:"none", stroke:"#111", "stroke-width":1.8, "stroke-linejoin":"round"});


bProv.forEach(s => mk(provB, "path", {d:toD(pts(s[0], s[1]))}));

const outlineB = mk(B, "path", {d:toD(chinaOutline, true), fill:"none", stroke:"#111", "stroke-width":2.2, "stroke-linejoin":"round"});



const coastB = mk(B, "g", {fill:"none", stroke:"#000", "stroke-width":3.6, "stroke-dasharray":"4 2"});


[[1005,170,985,240],[990,290,970,330],[920,395,915,425],[925,470,880,525],[850,550,790,625],[650,700,625,720],[430,780,425,805],[340,760,300,772],[540,745,510,760],[930,585,935,610]].forEach(s => mk(coastB, "path", {d:toD(pts("z7", s))}));
mk(coastB, "path", {d:toD(pts("z5",[860,860,865,885]))});
mk(coastB, "path", {d:toD(pts("z5",[930,1300,960,1305]))});

const nine = mk(B, "g", {stroke:"#333", "stroke-width":2});


[[1097,502,1095,570],[1083,685,1050,745],[1003,868,980,935]].forEach(s => mk(nine, "path", {d:toD(pts("z7", s))}));

const bFrame = mk(B, "rect", {x:155, y:1006, width:905, height:752, fill:"none", stroke:"#7f7f7f", "stroke-width":2});


const bLatY = v => ({45:1067,40:1174,35:1280,30:1386,25:1492,20:1601,15:1713})[v];
const bLonX = v => 327 + (v - 90) * 20.62;
bLatValues.forEach((v, i) => {
  mk(B, "line", {x1:136, x2:155, y1:bLatY(v), y2:bLatY(v), stroke:"#808080", "stroke-width":2});
  const t = mk(B, "text", {x:112, y:bLatY(v) + 11, "text-anchor":"end", "font-size":31}, bLatLabels[i]);
  
  
});
bLonValues.forEach((v, i) => {
  mk(B, "line", {x1:bLonX(v), x2:bLonX(v), y1:1758, y2:1779, stroke:"#808080", "stroke-width":2});
  const t = mk(B, "text", {x:bLonX(v) + 1, y:1829, "text-anchor":"middle", "font-size":31}, bLonLabels[i]);
  
  
});

/* colour bar b */
const barBStep = (1054 - 160.4) / bBarColors.length;
bBarColors.forEach((c, i) => {
  const r = mk(B, "rect", {x:160.4 + i * barBStep, y:1902.7, width:barBStep + 0.5, height:31.3, fill:c});
  
  
});
bBarLabels.forEach((s, i) => {
  const t = mk(B, "text", {x:217 + i * 111.7, y:1971, "text-anchor":"middle", "font-size":37}, s);
  
  
});

/* ---------- Panel c ---------- */
const C = document.getElementById("panelC");
const cBg = mk(C, "rect", {x:1271, y:1008, width:548, height:758, fill:"#ffffe6"});


const clipC = mk(mk(C, "defs", {}), "clipPath", {id:"cClip"});
mk(clipC, "rect", {x:1271, y:1008, width:548, height:758});
const cellsC = mk(C, "g", {"clip-path":"url(#cClip)"});


const cCol = c => 1271 + c * 8.33;
const cRow = r => 1008 + r * 8.33;
cPaleRows.forEach(row => {
  row.slice(1).forEach(col => {
    const cell = mk(cellsC, "rect", {x:cCol(col), y:cRow(row[0]), width:8.4, height:8.4, fill:cBarColors[6]});
    
    
  });
});
cCells.forEach(c => {
  const cell = mk(cellsC, "rect", {x:cCol(c[0]), y:cRow(c[1]), width:8.4, height:8.4, fill:cBarColors[c[2]]});
  
  
});

const gratC = mk(C, "g", {fill:"none", stroke:"#e2e2d8", "stroke-width":1.5, "stroke-dasharray":"16 12"});


mk(gratC, "path", {d:toD(pts("z8",[435,25,475,1350]))});
mk(gratC, "path", {d:toD(pts("z9",[470,0,503,1097]))});
mk(gratC, "path", {d:toD(pts("z8",[272,492,800,460,1500,375]))});

const cLinesThick = [
  ["z8",[1140,205,1130,260,1085,310,1010,315,945,345,935,395,920,400,870,365,840,375,790,560,785,575,705,570,690,630,650,655,668,690,630,790,628,870,610,940,570,990,555,1020,560,1100,605,1165,605,1230,580,1300,570,1350]],
  ["z8",[1140,205,1170,240,1180,305,1220,315,1215,335,1150,370,1130,420,1180,460,1215,460,1220,530,1245,545,1230,640,1215,690,1180,705,1150,690,1120,730,1135,790,1100,840,1090,880,1100,960,1140,985,1190,1100,1210,1125,1195,1200,1165,1280,1160,1350]],
  ["z8",[890,400,905,520,960,490,965,470,1010,455,1045,480,1035,530,1075,600,1060,630,1000,650,990,635,950,680,915,725,890,715,860,720,820,680,785,620,800,605,785,575]],
  ["z8",[1075,605,1130,620,1145,650,1150,690]],
  ["z8",[628,870,660,860,690,900,725,920,765,890,780,940,790,1000,735,1050,750,1105,800,1125,835,1150,885,1220,935,1210,940,1130,970,1055,1040,1020,1060,1085,1100,1130,1190,1115]],
  ["z8",[1040,1020,990,1010,985,990,1020,925,1090,880]],
  ["z8",[785,1000,860,1020,865,970,920,990,985,940,1020,920]],
  ["z8",[885,1220,860,1270,830,1290,820,1350]],
  ["z9",[610,0,585,100,550,190,550,240,570,340,575,480,600,560,600,620,575,700,540,820,545,910,570,930,605,925,670,885,720,850,800,810,830,765,878,760,875,690,845,630,830,600,785,590,725,625,730,590,690,545,650,575,605,560]],
  ["z9",[885,0,830,100,820,150,745,180,730,235]],
  ["z9",[1190,0,1160,100,1155,170,1110,220,1130,290,1165,325,1160,490,1150,500,1155,560,1130,590,1085,610,1050,660,1000,700,980,695,930,705,875,695,850,610,860,530,890,500,940,480,950,450,1005,475,1090,485,1150,495]],
  ["z9",[915,125,945,125,1000,170,1015,180,1073,155,1110,220]],
  ["z9",[915,125,930,170,880,180,860,170,840,220,865,295,900,340,945,375,950,450]],
  ["z9",[550,230,600,205,660,205,690,225,710,250,735,235,770,270,830,258,860,290]]
];
const cLinesThin = [
  ["z8",[1097,25,1115,60,1088,95,1130,165,1140,205]],
  ["z8",[1497,160,1430,210,1430,250,1470,295,1440,340,1390,380,1390,440,1405,490,1460,530,1495,500]],
  ["z8",[272,1040,295,1075,278,1120]],
  ["z8",[272,1040,285,970,320,915,360,850,400,775,490,700,475,650,520,680,565,700,600,640,650,600,650,655]],
  ["z9",[570,930,590,1010,620,1050,618,1097]],
  ["z9",[1165,325,1210,330,1320,380,1385,375,1425,345,1480,360,1497,340]],
  ["z9",[1497,155,1450,250,1480,330,1470,460]],
  ["z9",[1497,500,1420,600,1395,710,1470,725,1497,755]]
];
const provC = mk(C, "g", {fill:"none", stroke:"#000", "stroke-width":2, "stroke-linejoin":"round", "clip-path":"url(#cClip)"});


cLinesThick.forEach(s => mk(provC, "path", {d:toD(pts(s[0], s[1]))}));
const thinC = mk(C, "g", {fill:"none", stroke:"#333", "stroke-width":1.3, "stroke-linejoin":"round", "clip-path":"url(#cClip)"});


cLinesThin.forEach(s => mk(thinC, "path", {d:toD(pts(s[0], s[1]))}));

const cFrame = mk(C, "rect", {x:1271, y:1008, width:548, height:758, fill:"none", stroke:"#8a8a8a", "stroke-width":1.8});


const cLatY = v => 1367 - (v - 38) * 101.4;
const cLonX = v => 1374.5 + (v - 110) * 85.3;
cLatValues.forEach((v, i) => {
  mk(C, "line", {x1:1253, x2:1271, y1:cLatY(v), y2:cLatY(v), stroke:"#808080", "stroke-width":2});
  const t = mk(C, "text", {x:1232, y:cLatY(v) + 11, "text-anchor":"end", "font-size":31}, cLatLabels[i]);
  
  
});
cLonTickValues.forEach(v => {
  mk(C, "line", {x1:cLonX(v), x2:cLonX(v), y1:1766, y2:1784, stroke:"#808080", "stroke-width":2});
});
cLonValues.forEach((v, i) => {
  const t = mk(C, "text", {x:cLonX(v) - 1, y:1830, "text-anchor":"middle", "font-size":31}, cLonLabels[i]);
  
  
});

/* colour bar c */
const barCStep = (1855 - 1234) / cBarColors.length;
cBarColors.forEach((c, i) => {
  const r = mk(C, "rect", {x:1234 + i * barCStep, y:1900, width:barCStep + 0.5, height:31, fill:c});
  
  
});
cBarLabels.forEach((s, i) => {
  const t = mk(C, "text", {x:1276 + i * 88.8, y:1968, "text-anchor":"middle", "font-size":37}, s);
  
  
});
</script>
</body>
</html>
